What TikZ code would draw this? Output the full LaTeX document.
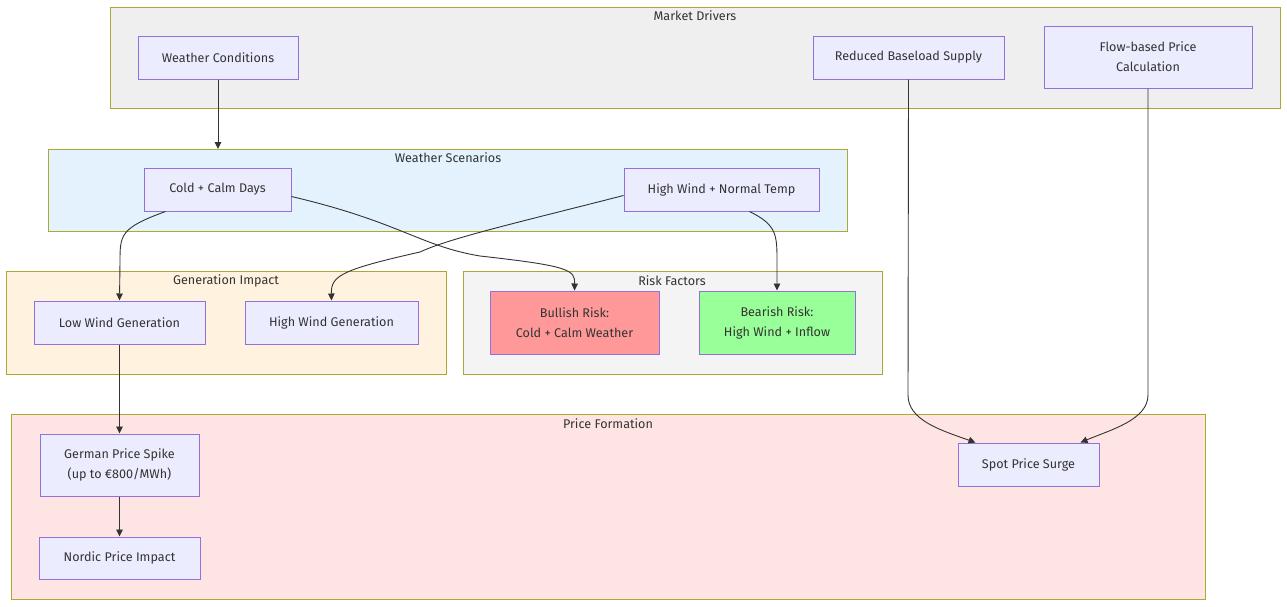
\documentclass[tikz,border=0pt]{standalone}
\usepackage{fontspec}
\setmainfont{Fira Sans}
\usetikzlibrary{arrows.meta}
\definecolor{nfill}{HTML}{ECECFF}
\definecolor{nborder}{HTML}{9370DB}
\definecolor{cborder}{HTML}{AAAA33}
\definecolor{txt}{HTML}{333333}
\definecolor{cmarket}{HTML}{EFEFEF}
\definecolor{cweather}{HTML}{E3F2FD}
\definecolor{cgen}{HTML}{FFF3E0}
\definecolor{crisk}{HTML}{F4F4F4}
\definecolor{cprice}{HTML}{FFE4E4}
\definecolor{bull}{HTML}{FF9999}
\definecolor{bear}{HTML}{99FF99}
\tikzset{
  box/.style={draw=nborder, fill=nfill, line width=1pt, inner sep=0pt, align=center, text=txt, font=\fontsize{12.6}{20}\selectfont},
  cluster/.style={draw=cborder, line width=1pt},
  ctitle/.style={text=txt, font=\fontsize{12.6}{14}\selectfont, inner sep=0pt},
  edge/.style={draw=txt, line width=0.9pt, -{Triangle[length=7pt,width=6.5pt]}}
}
\begin{document}
\begin{tikzpicture}[x=1pt,y=-1pt]
\useasboundingbox[fill=white] (0,0) rectangle (1287,606);
% clusters
\draw[cluster, fill=cmarket] (110,7) rectangle (1280,108);
\node[ctitle] (tmarket) at (695,16) {Market Drivers};
\draw[cluster, fill=cweather] (48,149) rectangle (847,231);
\node[ctitle] (tweather) at (448,158) {Weather Scenarios};
\draw[cluster, fill=cgen] (6,271) rectangle (446,374);
\node[ctitle] (tgen) at (226,281) {Generation Impact};
\draw[cluster, fill=crisk] (463,271) rectangle (882,374);
\node[ctitle] (trisk) at (672,281) {Risk Factors};
\draw[cluster, fill=cprice] (11,414) rectangle (1205,599);
\node[ctitle] (tprice) at (608,424) {Price Formation};
\coordinate (wstop) at (218,149);
% nodes
\node[box, minimum width=160, minimum height=43] (wc) at (218,57.5) {Weather Conditions};
\node[box, minimum width=191, minimum height=43] (rbs) at (908.5,57.5) {Reduced Baseload Supply};
\node[box, minimum width=208, minimum height=62] (fbp) at (1148,57) {Flow-based Price\\Calculation};
\node[box, minimum width=147, minimum height=43] (ccd) at (217.5,189.5) {Cold + Calm Days};
\node[box, minimum width=195, minimum height=43] (hwn) at (721.5,189.5) {High Wind + Normal Temp};
\node[box, minimum width=171, minimum height=43] (lwg) at (119.5,322.5) {Low Wind Generation};
\node[box, minimum width=173, minimum height=43] (hwg) at (331.5,322.5) {High Wind Generation};
\node[box, fill=bull, minimum width=169, minimum height=63] (bull) at (574.5,322.5) {Bullish Risk:\\Cold + Calm Weather};
\node[box, fill=bear, minimum width=156, minimum height=63] (bear) at (777,322.5) {Bearish Risk:\\High Wind + Inflow};
\node[box, minimum width=159, minimum height=62] (gps) at (119.5,465) {German Price Spike\\(up to €800/MWh)};
\node[box, minimum width=161, minimum height=42] (npi) at (119.5,558) {Nordic Price Impact};
\node[box, minimum width=141, minimum height=43] (sps) at (1028.5,464.5) {Spot Price Surge};
% edges
\draw[edge] (wc.south) -- (wstop);
\draw[edge] ([xshift=-52pt]ccd.south) .. controls (120,228) and (120,235) .. (120,262) -- (lwg.north);
\draw[edge] ([yshift=-7pt]ccd.east) .. controls (400,222) and (420,246) .. (480,256) .. controls (570,266) and (575,270) .. (bull.north);
\draw[edge] ([yshift=-6pt]hwn.west) .. controls (520,222) and (450,238) .. (420,252) .. controls (340,270) and (331,276) .. (hwg.north);
\draw[edge] ([xshift=28pt]hwn.south) .. controls (777,225) and (777,235) .. (777,262) -- (bear.north);
\draw[edge] (lwg.south) -- (gps.north);
\draw[edge] (gps.south) -- (npi.north);
\draw[edge] (rbs.south) -- (908,395) .. controls (908,420) and (940,430) .. ([xshift=-53pt]sps.north);
\draw[edge] (fbp.south) -- (1148,395) .. controls (1148,420) and (1110,430) .. ([xshift=52pt]sps.north);
\end{tikzpicture}
\end{document}
